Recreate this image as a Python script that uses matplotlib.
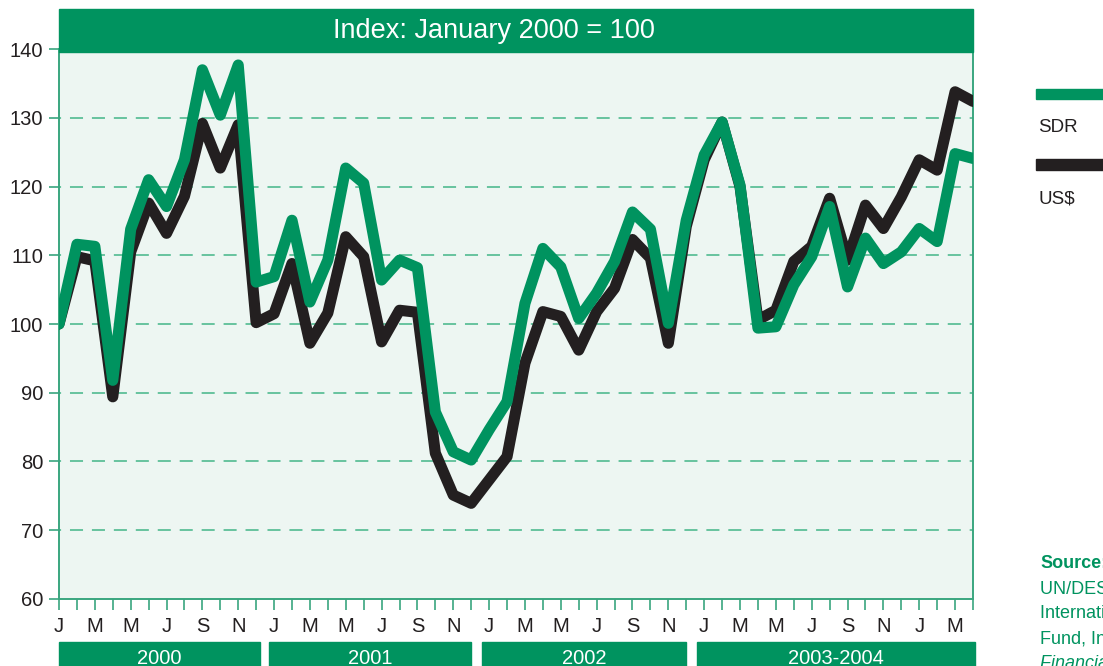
import matplotlib.pyplot as plt
import matplotlib.transforms as mtransforms
from matplotlib.patches import Rectangle

# monthly index, Jan 2000 .. Apr 2004 (Jan 2000 = 100)
sdr = [100, 111.6, 111.3, 91.8, 113.8, 121.0, 117.1, 123.9, 137.0, 130.4, 137.7, 106.1,
       106.9, 115.1, 103.2, 109.3, 122.7, 120.5, 106.4, 109.3, 108.2, 87.2, 81.4, 80.2,
       84.6, 88.7, 103.0, 111.0, 108.3, 100.8, 104.5, 109.1, 116.3, 113.8, 100.1, 115.1,
       124.6, 129.4, 120.2, 99.4, 99.6, 105.7, 109.8, 117.1, 105.4, 112.5, 108.8, 110.5,
       113.9, 112.0, 124.8, 124.1]
usd = [100, 109.8, 109.2, 89.4, 110.5, 117.6, 113.2, 118.6, 129.2, 122.7, 129.0, 100.2,
       101.5, 108.8, 97.2, 101.6, 112.7, 109.8, 97.4, 102.0, 101.7, 81.2, 75.1, 73.9,
       77.3, 80.7, 94.3, 101.8, 101.1, 96.2, 101.8, 105.2, 112.3, 109.6, 97.2, 114.2,
       123.9, 129.4, 120.0, 100.6, 102.0, 109.1, 111.3, 118.3, 109.3, 117.3, 113.9, 118.5,
       123.9, 122.4, 133.8, 132.4]
month_letters = ["J", "F", "M", "A", "M", "J", "J", "A", "S", "O", "N", "D"]
year_labels = ["2000", "2001", "2002", "2003-2004"]
year_start = [0, 11.7, 23.6, 35.6]
year_end = [11.2, 23.0, 35.0, 51.1]
y_ticks = [60, 70, 80, 90, 100, 110, 120, 130, 140]

GREEN = "#00935f"
BLACK = "#231f20"
GRID = "#5cbf98"
SPINE = "#3aa67f"
BG = "#edf6f2"

plt.rcParams["font.family"] = ["Liberation Sans", "DejaVu Sans"]
plt.rcParams["lines.scale_dashes"] = False

fig = plt.figure(figsize=(11.03, 6.66), dpi=100)
W, H = 1103, 666
ax = fig.add_axes([59 / W, 1 - 598.8 / H, (973 - 59) / W, (598.8 - 49.2) / H])
ax.set_facecolor(BG)

months = list(range(len(sdr)))
ax.plot(months, usd, color=BLACK, lw=8, solid_capstyle="round", zorder=3)
ax.plot(months, sdr, color=GREEN, lw=8, solid_capstyle="round", zorder=4)

ax.set_xlim(0, len(sdr) - 1)
ax.set_ylim(60, 140)
ax.set_yticks(y_ticks)
ax.set_yticklabels([str(v) for v in y_ticks])
ax.set_xticks(months)
ax.set_xticklabels([month_letters[m % 12] if m % 2 == 0 else "" for m in months])

for v in y_ticks[1:-1]:
    ax.axhline(v, color=GRID, lw=1.3, ls=(7.9, (9.4, 6.4)), zorder=1)

ax.tick_params(axis="y", length=7.5, width=1.2, color=SPINE, pad=4,
               labelsize=14.5, labelcolor="#231f20")
ax.tick_params(axis="x", length=8, width=1.2, color=SPINE, pad=5,
               labelsize=14.5, labelcolor="#231f20")
for side in ["left", "bottom", "right"]:
    ax.spines[side].set_color(SPINE)
    ax.spines[side].set_linewidth(1.4)
ax.spines["top"].set_visible(False)

# title band
fig.patches.append(Rectangle((59 / W, 1 - 52 / H), (973 - 59) / W, 43 / H,
                             transform=fig.transFigure, color=GREEN, zorder=5))
fig.text(494 / W, 1 - 31 / H, "Index: January 2000 = 100", color="white",
         fontsize=19.5, ha="center", va="center", zorder=6)

# year bands under the axis
trans = mtransforms.blended_transform_factory(ax.transData, fig.transFigure)
for lab, x0, x1 in zip(year_labels, year_start, year_end):
    ax.add_patch(Rectangle((x0, 0), x1 - x0, 1 - 642 / H, transform=trans,
                           color=GREEN, clip_on=False, zorder=5))
    ax.text((x0 + x1) / 2, 2.5 / H, lab, transform=trans, color="white",
            fontsize=14.5, ha="center", va="baseline", clip_on=False, zorder=6)

# legend outside on the right
fig.patches.append(Rectangle((1036 / W, 1 - 99 / H), 70 / W, 10 / H,
                             transform=fig.transFigure, color=GREEN))
fig.text(1038 / W, 1 - 132 / H, "SDR", fontsize=13.5, color=BLACK, va="baseline")
fig.patches.append(Rectangle((1036 / W, 1 - 170 / H), 70 / W, 11 / H,
                             transform=fig.transFigure, color=BLACK))
fig.text(1038 / W, 1 - 203 / H, "US$", fontsize=13.5, color=BLACK, va="baseline")

# source note (runs off the right edge, as in the original layout)
fig.text(1040 / W, 1 - 568 / H, "Source:", fontsize=13, fontweight="bold",
         color=GREEN, va="baseline")
src_lines = ["UN/DESA, based on data of", "International Monetary",
             "Fund, International", "Financial Statistics."]
for i, line in enumerate(src_lines):
    fig.text(1040 / W, 1 - (593 + 25 * i) / H, line, fontsize=13,
             color=GREEN, va="baseline", style="italic" if i == 3 else "normal")

fig.savefig("out.png", dpi=100)
